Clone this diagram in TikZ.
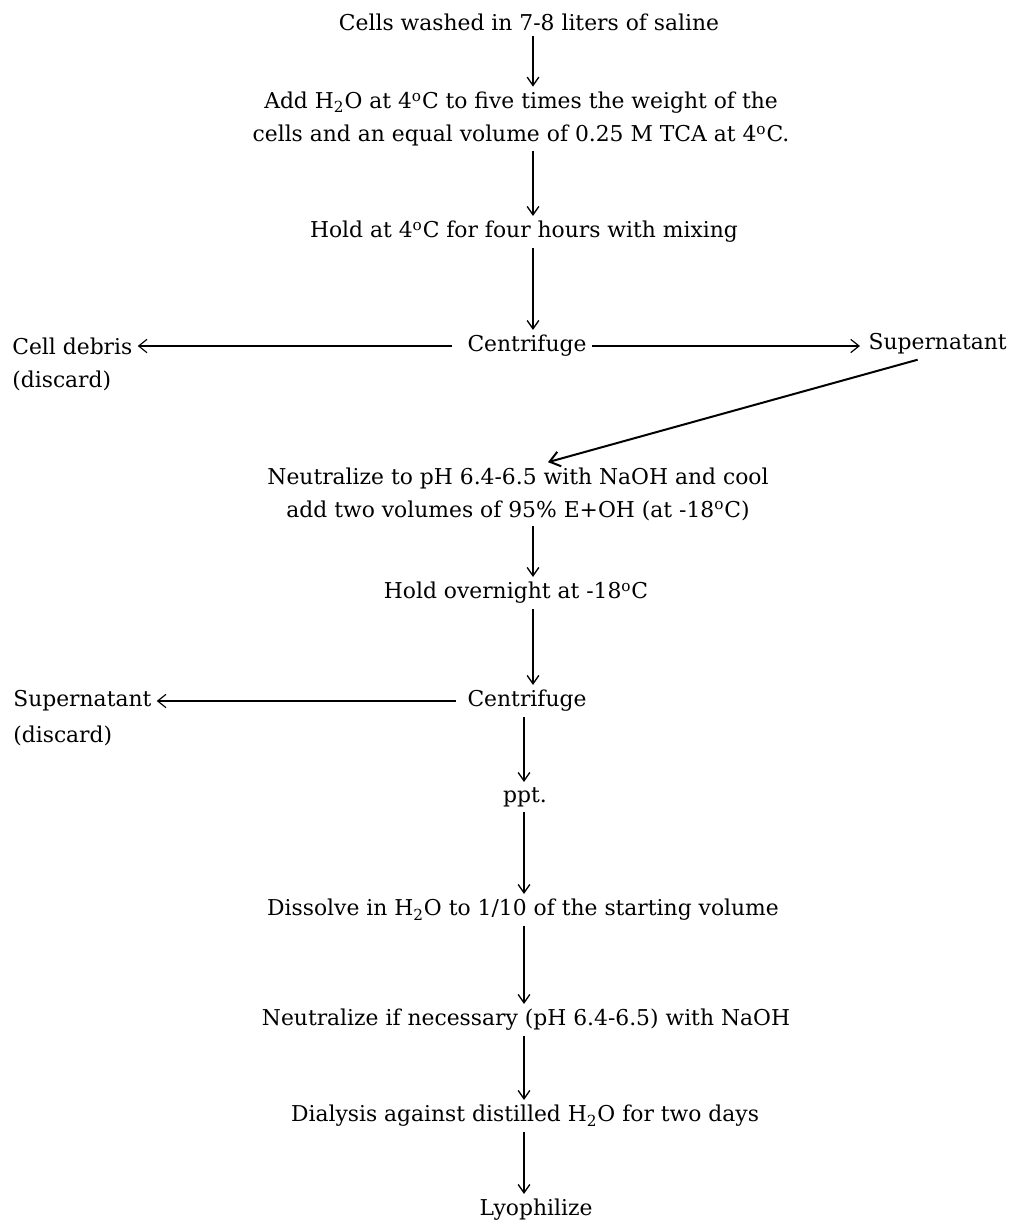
\documentclass[tikz,border=0pt]{standalone}
\usepackage{fontspec}
\setmainfont{DejaVu Serif}
\usetikzlibrary{arrows.meta, positioning}
\tikzset{
    stepbox/.style={
        font=\fontsize{13.1}{19.8}\selectfont,
        align=center,
        inner sep=3pt
    },
    sidebox/.style={
        font=\fontsize{13.1}{19.8}\selectfont,
        anchor=west,
        inner sep=3pt
    },
    flow/.style={
        -{Straight Barb[length=5pt,width=7pt]},
        line width=0.8pt
    },
    sideflow/.style={
        -{Straight Barb[length=5pt,width=8pt]},
        line width=0.7pt
    },
    slantflow/.style={
        -{Straight Barb[length=6pt,width=9pt]},
        line width=1.2pt
    }
}
\newcommand{\dg}{\textsuperscript{o}}
\newcommand{\water}{H\textsubscript{2}O}
\begin{document}
\begin{tikzpicture}[x=0.6pt, y=-0.6pt]
        \useasboundingbox (0,0) rectangle (1013,1225);
        % Arrow columns
        \coordinate (upper) at (533,0);
        \coordinate (lower) at (524,0);

        % First extraction
        \node[stepbox] (wash) at (529,22) {Cells washed in 7-8 liters of saline};
        \node[stepbox] (addwater) at (521,119) {Add \water{} at 4\dg C to five times the weight of the\\
            cells and an equal volume of 0.25 M TCA at 4\dg C.};
        \node[stepbox] (cold) at (524,232) {Hold at 4\dg C for four hours with mixing};
        \node[stepbox] (spin) at (527,346) {Centrifuge};
        \node[sidebox] (debris) at (7,346) {Cell debris};
        \node[sidebox] (debrisnote) at (7,381) {(discard)};
        \node[sidebox, anchor=east] (super) at (1012,344) {Supernatant};

        % Precipitation
        \node[stepbox] (neutral) at (518,494) {Neutralize to pH 6.4-6.5 with NaOH and cool\\
            add two volumes of 95\% E+OH (at -18\dg C)};
        \node[stepbox] (chill) at (516,593) {Hold overnight at -18\dg C};
        \node[stepbox] (spintwo) at (527,701) {Centrifuge};
        \node[sidebox] (supertwo) at (8,701) {Supernatant};
        \node[sidebox] (supertwonote) at (8,736) {(discard)};
        \node[stepbox] (ppt) at (525,797) {ppt.};

        % Work-up
        \node[stepbox] (dissolve) at (523,910) {Dissolve in \water{} to 1/10 of the starting volume};
        \node[stepbox] (neutraltwo) at (526,1020) {Neutralize if necessary (pH 6.4-6.5) with NaOH};
        \node[stepbox] (dialysis) at (525,1116) {Dialysis against distilled \water{} for two days};
        \node[stepbox] (lyo) at (536,1210) {Lyophilize};

        % Arrows
        \draw[flow] (wash.south -| upper) -- (addwater.north -| upper);
        \draw[flow] (addwater.south -| upper) -- (cold.north -| upper);
        \draw[flow] (cold.south -| upper) -- (spin.north -| upper);
        \draw[sideflow] ([xshift=-6pt]spin.west) -- (spin.west -| debris.east);
        \draw[sideflow] (spin.east) -- ([xshift=-2pt]spin.east -| super.west);
        \draw[slantflow] ([xshift=-12pt]super.south) -- ([xshift=18pt]neutral.north);
        \draw[flow] (neutral.south -| upper) -- (chill.north -| upper);
        \draw[flow] (chill.south -| upper) -- (spintwo.north -| upper);
        \draw[sideflow] ([xshift=-4pt]spintwo.west) -- (spintwo.west -| supertwo.east);
        \draw[flow] (spintwo.south -| lower) -- (ppt.north -| lower);
        \draw[flow] (ppt.south -| lower) -- (dissolve.north -| lower);
        \draw[flow] (dissolve.south -| lower) -- (neutraltwo.north -| lower);
        \draw[flow] (neutraltwo.south -| lower) -- (dialysis.north -| lower);
        \draw[flow] (dialysis.south -| lower) -- (lyo.north -| lower);
    \end{tikzpicture}
\end{document}
